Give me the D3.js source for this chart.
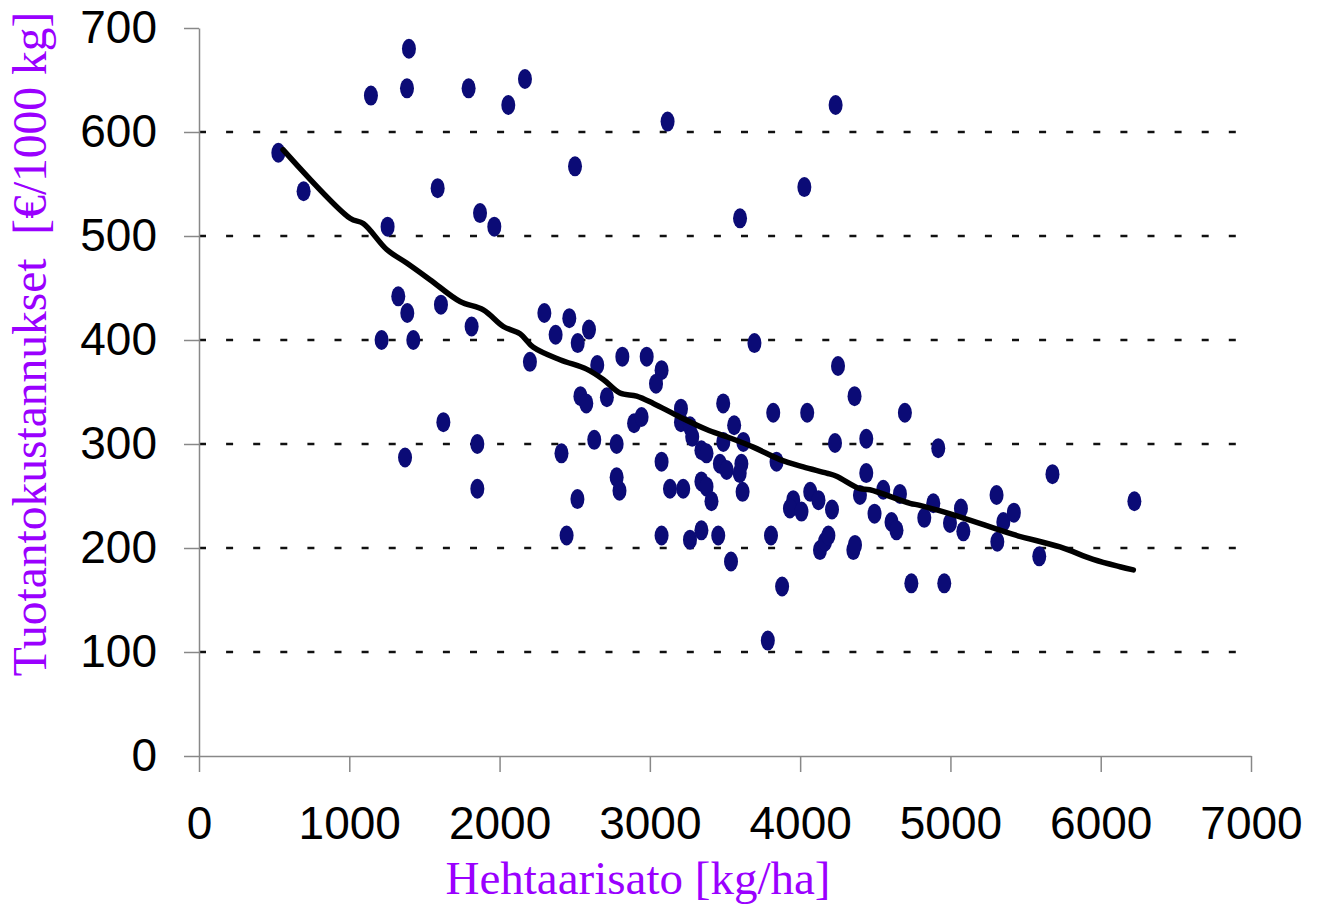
<!DOCTYPE html>
<html>
<head>
<meta charset="utf-8">
<script src="https://cdn.jsdelivr.net/npm/d3@7"></script>
<style>
  body { margin: 0; background: #fff; }
  svg { display: block; }
</style>
</head>
<body>
<div id="chart"></div>
<script>
// Hehtaarisato [kg/ha] vs Tuotantokustannukset [€/1000 kg]
const yieldKgHa = [
  1397, 1144, 1384, 1794, 2058, 2169, 528, 696, 1588, 2502,
  1255, 1870, 1965, 1326, 1386, 1610, 1814, 1215, 1426, 2298,
  2373, 2464, 2520, 2595, 2202, 2650, 2817, 1626, 1371, 1852,
  2412, 1852, 2630, 2779, 2538, 2577, 2714, 2895, 2945, 2779,
  2798, 2518, 2979, 3078, 3041, 3696, 4252, 4362, 3207, 3207,
  3267, 3282, 3488, 3561, 3622, 3821, 4047, 4697, 3489, 3343,
  3377, 3078, 3466, 3511, 3609, 3598, 3843, 4232, 4440, 4440,
  3134, 3222, 3343, 3377, 3410, 3617, 3954, 3932, 4009, 4067,
  4122, 4212, 4398, 4553, 4664, 4495, 4608, 4641, 2446, 3078,
  3267, 3343, 3455, 3540, 3806, 4132, 4165, 4188, 4354, 4365,
  4740, 3880, 3785, 4919, 5679, 6224, 4826, 4886, 4997, 5070,
  5086, 5307, 5352, 5312, 5422, 5591, 4959, 3118, 4236, 4028,
  3600
];
const costEurT = [
  680, 635, 642, 642, 626, 651, 580, 543, 546, 567,
  509, 522, 509, 442, 426, 434, 413, 400, 400, 426,
  405, 421, 397, 410, 379, 376, 384, 321, 287, 300,
  291, 257, 304, 300, 346, 339, 345, 320, 326, 268,
  255, 247, 384, 371, 358, 397, 375, 346, 334, 321,
  317, 307, 339, 318, 302, 330, 330, 330, 302, 294,
  291, 283, 281, 275, 281, 272, 283, 301, 305, 272,
  257, 257, 264, 259, 245, 254, 246, 238, 235, 254,
  246, 237, 251, 256, 252, 233, 225, 217, 212, 212,
  208, 217, 212, 187, 212, 198, 206, 212, 198, 203,
  166, 163, 111, 296, 271, 245, 229, 243, 224, 238,
  216, 251, 225, 206, 234, 192, 166, 610, 626, 547,
  517
];

// trend line (moving average)
const trendX = [559, 1005, 1093, 1249, 1382, 1537, 1737, 1892, 2025, 2136, 2225, 2402, 2579, 2690, 2801, 2912, 3023, 3200, 3378, 3511, 3688, 3866, 4021, 4176, 4242, 4398, 4464, 4731, 4797, 5063, 5418, 5729, 5950, 6128, 6217];
const trendY = [583, 517, 512, 487, 474, 458, 437, 429, 413, 406, 393, 381, 372, 362, 349, 346, 339, 326, 314, 307, 297, 285, 278, 272, 269, 257, 256, 243, 241, 230, 213, 201, 189, 182, 179];

const xTicks = [0, 1000, 2000, 3000, 4000, 5000, 6000, 7000];
const yTicks = [0, 100, 200, 300, 400, 500, 600, 700];
const gridValues = [100, 200, 300, 400, 500, 600];

const xTitle = "Hehtaarisato [kg/ha]";
const yTitle = "Tuotantokustannukset\u00a0\u00a0[€/1000 kg]";

const width = 1318, height = 906;
const plotLeft = 199, plotRight = 1251, plotTop = 28, plotBottom = 756;
const titleColor = "#9a00ff";
const dotColor = "#0b0b76";

const x = d3.scaleLinear().domain([0, 7000]).range([plotLeft, plotRight]);
const y = d3.scaleLinear().domain([0, 700]).range([plotBottom, plotTop]);

const svg = d3.select("#chart").append("svg")
  .attr("width", width)
  .attr("height", height);

// dotted gridlines
svg.append("g")
  .selectAll("line")
  .data(gridValues)
  .join("line")
  .attr("x1", plotLeft)
  .attr("x2", plotRight)
  .attr("y1", d => y(d))
  .attr("y2", d => y(d))
  .attr("stroke", "#111")
  .attr("stroke-width", 2.5)
  .attr("stroke-dasharray", "7,20.1");

// axes
const xAxis = svg.append("g")
  .attr("transform", `translate(0,${plotBottom})`)
  .call(d3.axisBottom(x).tickValues(xTicks).tickFormat(d3.format("d"))
    .tickSize(16).tickSizeOuter(0).tickPadding(34));
const yAxis = svg.append("g")
  .attr("transform", `translate(${plotLeft},0)`)
  .call(d3.axisLeft(y).tickValues(yTicks).tickFormat(d3.format("d"))
    .tickSize(15).tickSizeOuter(0).tickPadding(27));

[xAxis, yAxis].forEach(g => {
  g.select(".domain").attr("stroke", "#888").attr("stroke-width", 1.5);
  g.selectAll(".tick line").attr("stroke", "#888").attr("stroke-width", 1.5);
  g.selectAll(".tick text")
    .attr("fill", "#000")
    .style("font-family", "'Liberation Sans', Arial, sans-serif")
    .style("font-size", "46px");
});
xAxis.selectAll(".tick text").attr("dy", "0.71em");

// scatter points
svg.append("g")
  .selectAll("ellipse")
  .data(d3.zip(yieldKgHa, costEurT))
  .join("ellipse")
  .attr("cx", d => x(d[0]))
  .attr("cy", d => y(d[1]))
  .attr("rx", 7)
  .attr("ry", 10)
  .attr("fill", dotColor);

// trend line
const line = d3.line()
  .x(d => x(d[0]))
  .y(d => y(d[1]))
  .curve(d3.curveCatmullRom);
svg.append("path")
  .datum(d3.zip(trendX, trendY))
  .attr("d", line)
  .attr("fill", "none")
  .attr("stroke", "#000")
  .attr("stroke-width", 5.5)
  .attr("stroke-linejoin", "round")
  .attr("stroke-linecap", "round");

// axis titles
svg.append("text")
  .attr("x", 638)
  .attr("y", 894)
  .attr("text-anchor", "middle")
  .attr("fill", titleColor)
  .style("font-family", "'Liberation Serif', 'Times New Roman', serif")
  .style("font-size", "47px")
  .text(xTitle);

svg.append("text")
  .attr("transform", "translate(46,344) rotate(-90)")
  .attr("text-anchor", "middle")
  .attr("fill", titleColor)
  .style("font-family", "'Liberation Serif', 'Times New Roman', serif")
  .style("font-size", "47.5px")
  .text(yTitle);
</script>
</body>
</html>
